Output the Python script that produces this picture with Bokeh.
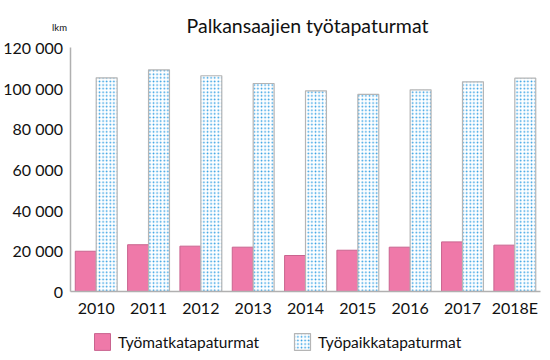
from bokeh.plotting import figure
from bokeh.models import ColumnDataSource, Range1d, Label, Legend, LegendItem, FixedTicker
from bokeh.transform import dodge
from bokeh.embed import file_html
from bokeh.resources import INLINE

years = ["2010", "2011", "2012", "2013", "2014", "2015", "2016", "2017", "2018E"]
tyomatka = [19800, 23000, 22300, 21800, 17700, 20300, 21800, 24400, 22800]
tyopaikka = [105100, 109000, 106100, 102300, 98700, 96900, 99200, 103100, 104900]
y_ticks = [0, 20000, 40000, 60000, 80000, 100000, 120000]
y_tick_labels = ["0", "20 000", "40 000", "60 000", "80 000", "100 000", "120 000"]
title_text = "Palkansaajien työtapaturmat"
unit_text = "lkm"
series_names = ["Työmatkatapaturmat", "Työpaikkatapaturmat"]

FONT = "Lato"
W, H = 550, 360

idx = list(range(len(years)))
src = ColumnDataSource(dict(x=idx, a=tyomatka, b=tyopaikka))

p = figure(x_range=Range1d(-1.829, 8.682), y_range=Range1d(-33934, 143115),
           width=W, height=H, output_backend="svg", toolbar_location=None,
           min_border_left=0, min_border_right=0, min_border_top=0, min_border_bottom=0)
p.outline_line_color = None
p.grid.grid_line_color = None

r1 = p.vbar(x=dodge("x", -0.2), top="a", width=0.4, source=src,
            fill_color="#ef79a9", line_color="#c9648f", line_width=1)
r2 = p.vbar(x=dodge("x", 0.2), top="b", width=0.4, source=src,
            fill_color="white", line_color="#b5b5b5", line_width=1.2,
            hatch_pattern="dot", hatch_color="#2c9ce2", hatch_scale=3.6, hatch_weight=1.7)

xa, ya = p.xaxis[0], p.yaxis[0]
for ax in (xa, ya):
    ax.axis_line_color = "#b0b0b0"
    ax.axis_line_width = 1.5
    ax.major_tick_line_color = None
    ax.minor_tick_line_color = None
    ax.major_tick_out = 0
    ax.major_tick_in = 0
    ax.major_label_text_font = FONT
    ax.major_label_text_font_size = "16px"
    ax.major_label_text_color = "#111111"

ya.ticker = FixedTicker(ticks=y_ticks)
ya.major_label_overrides = {t: l for t, l in zip(y_ticks, y_tick_labels)}
ya.major_label_standoff = 7
ya.fixed_location = -0.5
ya.bounds = (0, 120000)

xa.ticker = FixedTicker(ticks=idx)
xa.major_label_overrides = {i: y for i, y in zip(idx, years)}
xa.major_label_standoff = 6
xa.fixed_location = 0
xa.bounds = (-0.5, len(years) - 0.5)

p.add_layout(Label(x=307, y=H - 25, x_units="screen", y_units="screen", text=title_text,
                   text_font=FONT, text_font_size="19.5px", text_align="center",
                   text_baseline="middle", text_color="#111111"))
p.add_layout(Label(x=59, y=H - 27, x_units="screen", y_units="screen", text=unit_text,
                   text_font=FONT, text_font_size="9.5px", text_align="center",
                   text_baseline="middle", text_color="#111111"))

legend = Legend(items=[LegendItem(label=series_names[0], renderers=[r1]),
                       LegendItem(label=series_names[1], renderers=[r2])],
                location=(92, 8), orientation="horizontal",
                padding=0, margin=0, spacing=33, label_standoff=6,
                glyph_width=20, glyph_height=21,
                border_line_color=None, background_fill_alpha=0,
                label_text_font=FONT, label_text_font_size="15.5px", label_text_color="#111111")
p.add_layout(legend, "center")

open("out.html", "w").write(file_html(p, INLINE))
